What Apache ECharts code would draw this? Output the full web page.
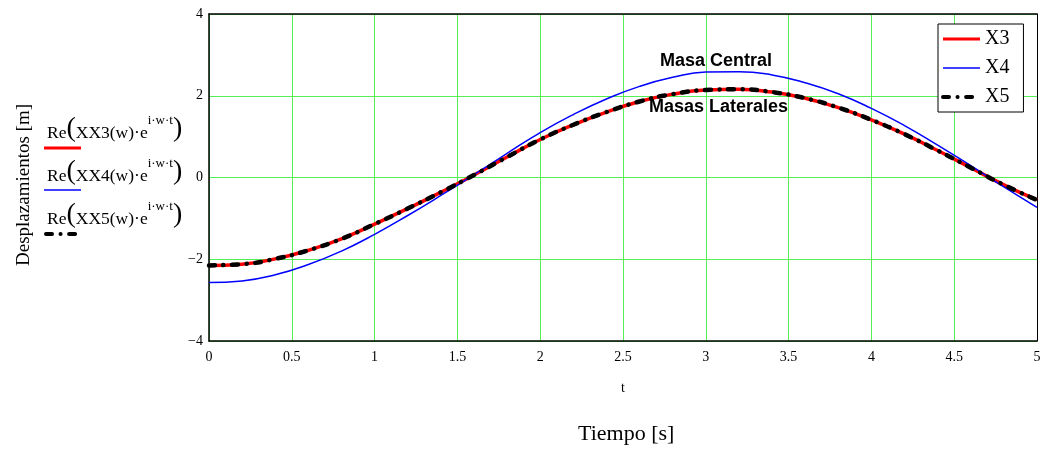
<!DOCTYPE html>
<html>
<head>
<meta charset="utf-8">
<script src="https://cdn.jsdelivr.net/npm/echarts@6/dist/echarts.min.js"></script>
<style>
html,body{margin:0;padding:0;background:#fff;}
#c{width:1049px;height:453px;}
</style>
</head>
<body>
<div id="c"></div>
<script>
const tValues = [0,0.2,0.4,0.6,0.8,1.0,1.2,1.4,1.6,1.8,2.0,2.2,2.4,2.6,2.8,3.0,3.2,3.4,3.6,3.8,4.0,4.2,4.4,4.6,4.8,5.0];
const x3 = [-2.15,-2.12,-1.99,-1.78,-1.50,-1.14,-0.76,-0.36,0.06,0.50,0.93,1.29,1.60,1.86,2.04,2.14,2.16,2.09,1.94,1.71,1.41,1.06,0.66,0.24,-0.18,-0.55];
const x4 = [-2.57,-2.53,-2.38,-2.13,-1.80,-1.39,-0.93,-0.44,0.07,0.59,1.10,1.54,1.92,2.23,2.45,2.58,2.59,2.51,2.32,2.05,1.69,1.27,0.79,0.29,-0.23,-0.73];
const x5 = [-2.15,-2.12,-1.99,-1.78,-1.50,-1.14,-0.76,-0.36,0.06,0.50,0.93,1.29,1.60,1.86,2.04,2.14,2.16,2.09,1.94,1.71,1.41,1.06,0.66,0.24,-0.18,-0.55];
const seriesNames = ['X3','X4','X5'];
const xTicks = {min:0, max:5, interval:0.5};
const yTicks = {min:-4, max:4, interval:2};

const pairs = arr => tValues.map((t,i)=>[t, arr[i]]);
const serif = 'Liberation Serif';
const green = '#55ee55';
const dashX5 = [6,8.5,0.1,8.5];

const chart = echarts.init(document.getElementById('c'));

function reLabel(n){
  return '{m|Re}{p|(}{m|XX' + n + '(w)·e}{s|i·w·t}{p|)}';
}
const richRe = {
  p:{fontFamily:serif,fontSize:28,verticalAlign:'bottom'},
  m:{fontFamily:serif,fontSize:17.5,verticalAlign:'bottom',padding:[0,0,1,0]},
  s:{fontFamily:serif,fontSize:13,verticalAlign:'top',padding:[0,0,16,0]}
};

chart.setOption({
  animation:false,
  backgroundColor:'#fff',
  grid:{left:209,right:12,top:14,bottom:112,show:false},
  xAxis:[{
    type:'value', min:xTicks.min, max:xTicks.max, interval:xTicks.interval,
    axisLine:{show:true,onZero:false,lineStyle:{color:'#000',width:1.5}},
    axisTick:{show:false},
    axisLabel:{fontFamily:serif,fontSize:14,color:'#000',margin:9},
    splitLine:{show:true,lineStyle:{color:green,width:1}}
  },{
    type:'value', position:'top', min:xTicks.min, max:xTicks.max,
    axisLine:{show:true,onZero:false,lineStyle:{color:'#000',width:1.5}},
    axisTick:{show:false}, axisLabel:{show:false}, splitLine:{show:false}
  }],
  yAxis:[{
    type:'value', min:yTicks.min, max:yTicks.max, interval:yTicks.interval,
    axisLine:{show:true,onZero:false,lineStyle:{color:'#000',width:1.5}},
    axisTick:{show:false},
    axisLabel:{fontFamily:serif,fontSize:14,color:'#000',margin:6,
      formatter:v=>String(v).replace('-','\u2212')},
    splitLine:{show:true,lineStyle:{color:green,width:1}}
  },{
    type:'value', position:'right', min:yTicks.min, max:yTicks.max,
    axisLine:{show:true,onZero:false,lineStyle:{color:'#000',width:1}},
    axisTick:{show:false}, axisLabel:{show:false}, splitLine:{show:false}
  }],
  legend:{
    orient:'vertical', left:938, top:24,
    backgroundColor:'#fff', borderColor:'#000', borderWidth:1,
    padding:[5,14,5,3], itemGap:9, itemWidth:37, itemHeight:14,
    itemStyle:{opacity:0},
    textStyle:{fontFamily:serif,fontSize:20,color:'#000'},
    data:[
      {name:seriesNames[0],lineStyle:{width:3}},
      {name:seriesNames[1],lineStyle:{width:1.5}},
      {name:seriesNames[2],lineStyle:{width:4,type:dashX5,cap:'round'}}
    ]
  },
  series:[
    {name:seriesNames[0],type:'line',data:pairs(x3),smooth:true,symbol:'none',
      itemStyle:{color:'#ff0000'},lineStyle:{color:'#ff0000',width:3.5},z:2},
    {name:seriesNames[1],type:'line',data:pairs(x4),smooth:true,symbol:'none',
      itemStyle:{color:'#0000ff'},lineStyle:{color:'#0000ff',width:1.5},z:3},
    {name:seriesNames[2],type:'line',data:pairs(x5),smooth:true,symbol:'none',
      itemStyle:{color:'#000'},lineStyle:{color:'#000',width:4.5,type:dashX5,cap:'round'},z:4}
  ],
  graphic:[
    {type:'text',left:660,top:52,style:{text:'Masa Central',fontFamily:'Liberation Sans',fontWeight:'bold',fontSize:18,fill:'#000'},z:10},
    {type:'text',left:649,top:98,style:{text:'Masas Laterales',fontFamily:'Liberation Sans',fontWeight:'bold',fontSize:18,fill:'#000'},z:10},
    {type:'text',x:24,y:185,rotation:Math.PI/2,style:{text:'Desplazamientos [m]',fontFamily:serif,fontSize:19,fill:'#000',align:'center',verticalAlign:'middle'}},
    {type:'text',left:47,top:114,style:{text:reLabel(3),rich:richRe}},
    {type:'line',shape:{x1:44,y1:148,x2:81,y2:148},style:{stroke:'#ff0000',lineWidth:3}},
    {type:'text',left:47,top:157,style:{text:reLabel(4),rich:richRe}},
    {type:'line',shape:{x1:44,y1:190,x2:81,y2:190},style:{stroke:'#0000ff',lineWidth:1.5}},
    {type:'text',left:47,top:200,style:{text:reLabel(5),rich:richRe}},
    {type:'line',shape:{x1:46,y1:234,x2:81,y2:234},style:{stroke:'#000',lineWidth:4,lineDash:dashX5,lineCap:'round'}},
    {type:'text',left:621,top:381,style:{text:'t',fontFamily:serif,fontSize:14,fill:'#000'}},
    {type:'text',left:578,top:423,style:{text:'Tiempo [s]',fontFamily:serif,fontSize:22,fill:'#000'}}
  ]
});
</script>
</body>
</html>
